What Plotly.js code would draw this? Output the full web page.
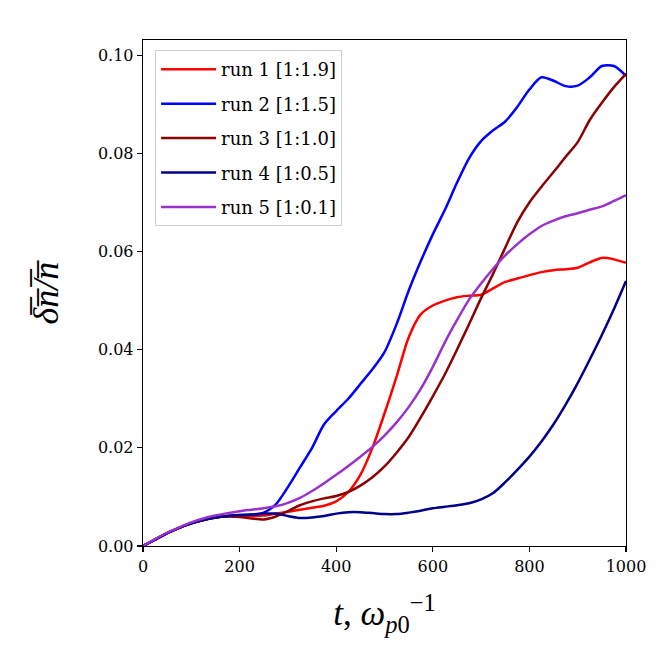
<!DOCTYPE html>
<html>
<head>
<meta charset="utf-8">
<script src="https://cdn.plot.ly/plotly-3.0.1.min.js"></script>
<style>
  html, body { margin: 0; padding: 0; background: #fff; }
  #chart { width: 664px; height: 664px; }
</style>
</head>
<body>
<div id="chart"></div>
<script>
// time axis, every 25 (in 1/omega_p0)
const t = [0, 25, 50, 75, 100, 125, 150, 175, 200, 225, 250, 275, 300, 325, 350, 375, 400,
  425, 450, 475, 500, 525, 550, 575, 600, 625, 650, 675, 700, 725, 750, 775, 800,
  825, 850, 875, 900, 925, 950, 975, 1000];

const run1 = [0, 0.0013, 0.0026, 0.0037, 0.0046, 0.0053, 0.0058, 0.0061, 0.0062, 0.0061, 0.0062,
  0.0066, 0.0070, 0.0074, 0.0078, 0.0082, 0.0091, 0.0110, 0.0145, 0.0200, 0.0270, 0.0345, 0.0425,
  0.0472, 0.0490, 0.0500, 0.0507, 0.0510, 0.0512, 0.0525, 0.0538, 0.0545, 0.0552, 0.0558, 0.0562,
  0.0564, 0.0567, 0.0578, 0.0587, 0.0584, 0.0577];

const run2 = [0, 0.0013, 0.0026, 0.0037, 0.0046, 0.0053, 0.0058, 0.0061, 0.0063, 0.0064, 0.0068,
  0.0085, 0.0120, 0.0160, 0.0200, 0.0248, 0.0275, 0.0300, 0.0330, 0.0360, 0.0395, 0.0452, 0.0520,
  0.0580, 0.0635, 0.0685, 0.0740, 0.0790, 0.0825, 0.0847, 0.0865, 0.0895, 0.0930, 0.0955, 0.0948,
  0.0937, 0.0938, 0.0955, 0.0978, 0.0978, 0.0958];

const run3 = [0, 0.0013, 0.0026, 0.0037, 0.0046, 0.0053, 0.0058, 0.0060, 0.0059, 0.0056, 0.0054,
  0.0060, 0.0071, 0.0083, 0.0091, 0.0097, 0.0102, 0.0110, 0.0123, 0.0140, 0.0162, 0.0190, 0.0222,
  0.0262, 0.0305, 0.0350, 0.0400, 0.0452, 0.0505, 0.0555, 0.0608, 0.0660, 0.0700, 0.0732, 0.0762,
  0.0793, 0.0823, 0.0868, 0.0903, 0.0935, 0.0962];

const run4 = [0, 0.0013, 0.0026, 0.0037, 0.0046, 0.0053, 0.0058, 0.0061, 0.0063, 0.0064, 0.0066,
  0.0066, 0.0061, 0.0057, 0.0058, 0.0061, 0.0066, 0.0069, 0.0069, 0.0067, 0.0065, 0.0065, 0.0068,
  0.0072, 0.0077, 0.0080, 0.0083, 0.0087, 0.0095, 0.0108, 0.0130, 0.0155, 0.0182, 0.0213, 0.0248,
  0.0288, 0.0332, 0.0380, 0.0430, 0.0483, 0.0540];

const run5 = [0, 0.0014, 0.0027, 0.0038, 0.0048, 0.0056, 0.0062, 0.0067, 0.0071, 0.0074, 0.0077,
  0.0081, 0.0088, 0.0098, 0.0112, 0.0128, 0.0145, 0.0163, 0.0182, 0.0202, 0.0225, 0.0252, 0.0283,
  0.0320, 0.0365, 0.0415, 0.0460, 0.0502, 0.0535, 0.0565, 0.0592, 0.0615, 0.0635, 0.0652, 0.0663,
  0.0672, 0.0678, 0.0685, 0.0692, 0.0703, 0.0715];

const runNames = ['run 1 [1:1.9]', 'run 2 [1:1.5]', 'run 3 [1:1.0]', 'run 4 [1:0.5]', 'run 5 [1:0.1]'];
const runColors = ['#ff0000', '#0000ff', '#8b0000', '#00008b', '#9932cc'];
const runValues = [run1, run2, run3, run4, run5];

const xTicks = [0, 200, 400, 600, 800, 1000];
const yTicks = [0, 0.02, 0.04, 0.06, 0.08, 0.10];

const serif = '"DejaVu Serif", "Liberation Serif", serif';
const titleSerif = '"Liberation Serif", "DejaVu Serif", serif';

const data = runValues.map((vals, i) => ({
    type: 'scatter',
    mode: 'lines',
    x: t,
    y: vals,
    name: runNames[i],
    legendgroup: 'g' + i,
    line: { color: runColors[i], width: 2.5, shape: 'spline', smoothing: 0.8 }
}));

const axisCommon = {
    showline: true,
    mirror: true,
    linecolor: '#000',
    linewidth: 1.3,
    ticks: 'outside',
    ticklen: 5,
    tickwidth: 1.2,
    tickcolor: '#000',
    showgrid: false,
    zeroline: false,
    tickfont: { family: serif, size: 16, color: '#000' }
};

const layout = {
    width: 664,
    height: 664,
    paper_bgcolor: '#fff',
    plot_bgcolor: '#fff',
    font: { family: serif, color: '#000' },
    margin: { l: 143, r: 38, t: 40, b: 118 },
    xaxis: Object.assign({}, axisCommon, {
        range: [0, 1000],
        tickvals: xTicks,
        ticktext: xTicks.map(String),
        title: {
            text: '<i>t</i>, <i>ω</i><sub><i>p</i>0</sub><sup>−1</sup>',
            font: { family: titleSerif, size: 35, color: '#000' },
            standoff: 26
        }
    }),
    yaxis: Object.assign({}, axisCommon, {
        range: [0, 0.1031],
        tickvals: yTicks,
        ticktext: yTicks.map(v => v.toFixed(2)),
        title: {
            text: '<i>δ\u0305n\u0305/\u0305n\u0305</i>',
            font: { family: titleSerif, size: 36, color: '#000' },
            standoff: 28
        }
    }),
    showlegend: true,
    legend: {
        x: 0.025,
        y: 0.98,
        xanchor: 'left',
        yanchor: 'top',
        bgcolor: 'rgba(255,255,255,0.8)',
        bordercolor: '#d0d0d0',
        borderwidth: 1,
        font: { family: serif, size: 18, color: '#000' },
        itemwidth: 55,
        tracegroupgap: 8
    }
};

Plotly.newPlot('chart', data, layout, { displayModeBar: false, staticPlot: true });
</script>
</body>
</html>
